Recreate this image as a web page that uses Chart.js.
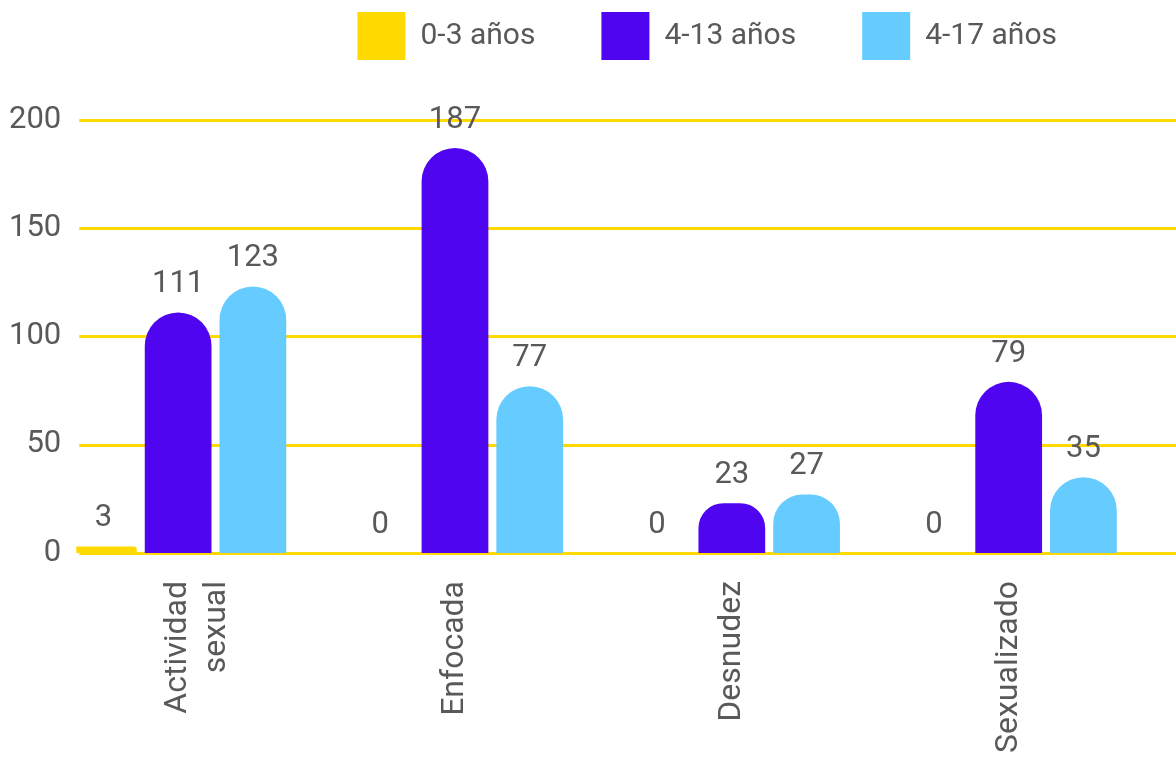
<!DOCTYPE html>
<html lang="es">
<head>
<meta charset="UTF-8">
<title>Contenido por edad</title>
<script src="https://cdn.jsdelivr.net/npm/chart.js"></script>
<style>
  html, body { margin: 0; padding: 0; background: #fff; }
  #wrap { width: 1176px; height: 757px; position: relative; }
</style>
</head>
<body>
<div id="wrap"><canvas id="chart"></canvas></div>
<script>
const categories = [['Actividad', 'sexual'], 'Enfocada', 'Desnudez', 'Sexualizado'];
const seriesNames = ['0-3 años', '4-13 años', '4-17 años'];
const age0to3 = [3, 0, 0, 0];
const age4to13 = [111, 187, 23, 79];
const age4to17 = [123, 77, 27, 35];
const yTicks = [0, 50, 100, 150, 200];

const colors = ['#FFD900', '#5005F0', '#66CCFF'];
const textColor = '#595959';
const font = { family: 'Roboto', size: 30 };
const xFont = { family: 'Roboto', size: 32 };

// bars sit on a linear x axis so the groups can be placed like the original
const toPoints = values => values.map((v, i) => ({ x: i, y: v }));

const gridLines = {
  id: 'gridLines',
  beforeDatasetsDraw(chart) {
    const { ctx, chartArea, scales: { y } } = chart;
    ctx.save();
    ctx.strokeStyle = colors[0];
    ctx.lineWidth = 3;
    y.ticks.forEach(t => {
      const py = Math.round(y.getPixelForValue(t.value)) + 0.5;
      ctx.beginPath();
      ctx.moveTo(chartArea.left + 3, py);
      ctx.lineTo(chart.width, py);
      ctx.stroke();
    });
    ctx.restore();
  }
};

const valueLabels = {
  id: 'valueLabels',
  afterDatasetsDraw(chart) {
    const ctx = chart.ctx;
    ctx.save();
    ctx.font = '31px Roboto';
    ctx.fillStyle = textColor;
    ctx.textAlign = 'center';
    ctx.textBaseline = 'middle';
    chart.data.datasets.forEach((ds, i) => {
      chart.getDatasetMeta(i).data.forEach((bar, j) => {
        ctx.fillText(ds.data[j].y, bar.x, bar.y - 28);
      });
    });
    ctx.restore();
  }
};

const seriesValues = [age0to3, age4to13, age4to17];

new Chart(document.getElementById('chart'), {
  type: 'bar',
  data: {
    datasets: seriesNames.map((name, i) => ({
      label: name,
      data: toPoints(seriesValues[i]),
      backgroundColor: colors[i],
      borderWidth: 0,
      borderRadius: 40,
      borderSkipped: 'start',
      categoryPercentage: 0.81,
      barPercentage: 0.893
    }))
  },
  options: {
    responsive: true,
    maintainAspectRatio: false,
    animation: false,
    layout: { padding: { top: -54, right: 53, left: -6, bottom: -24 } },
    plugins: {
      legend: {
        align: 'end',
        labels: { boxWidth: 48, boxHeight: 48, padding: 66, color: textColor, font: font }
      },
      tooltip: { enabled: false }
    },
    scales: {
      x: {
        type: 'linear',
        offset: false,
        min: -0.368,
        max: 3.413,
        grid: { display: false, drawTicks: false },
        border: { display: false },
        afterBuildTicks: s => {
          s.ticks = s.ticks.filter(t => Math.abs(t.value - Math.round(t.value)) < 1e-6 && t.value >= 0 && t.value < categories.length);
        },
        ticks: {
          stepSize: 1,
          autoSkip: false,
          minRotation: 90,
          maxRotation: 90,
          padding: 28,
          color: textColor,
          font: xFont,
          callback: v => categories[Math.round(v)]
        }
      },
      y: {
        min: 0,
        max: 223,
        grid: { display: false, drawTicks: false },
        border: { display: false },
        afterBuildTicks: s => { s.ticks = yTicks.map(v => ({ value: v })); },
        ticks: { padding: 15, color: textColor, font: { family: 'Roboto', size: 31 } }
      }
    }
  },
  plugins: [gridLines, valueLabels]
});
</script>
</body>
</html>
